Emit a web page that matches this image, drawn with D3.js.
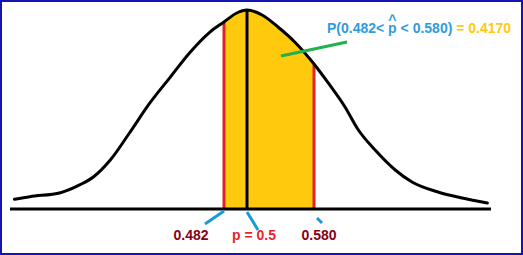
<!DOCTYPE html>
<html>
<head>
<meta charset="utf-8">
<script src="https://cdn.jsdelivr.net/npm/d3@7"></script>
<style>
  body { margin: 0; background: #fff; }
  text { font-family: "Liberation Sans", Arial, sans-serif; font-weight: bold; font-size: 14px; }
</style>
</head>
<body>
<div id="chart"></div>
<script>
// sample proportion values along the bell curve
var curveP = [0.318, 0.330, 0.354, 0.369, 0.380, 0.393, 0.408, 0.424, 0.440, 0.455, 0.471, 0.482, 0.492, 0.500,
              0.518, 0.537, 0.557, 0.580, 0.597, 0.617, 0.633, 0.653, 0.677, 0.697, 0.728, 0.757, 0.787];
// density at those points
var curveD = [0.245, 0.31, 0.41, 0.605, 0.81, 1.23, 1.91, 2.665, 3.315, 3.92, 4.445, 4.70, 4.925, 5.0,
              4.874, 4.573, 4.196, 3.643, 3.166, 2.563, 1.985, 1.482, 0.980, 0.678, 0.427, 0.276, 0.151];

var lowerP = 0.482;
var meanP = 0.5;
var upperP = 0.580;
var tickValues = [0.482, 0.5, 0.580];
var tickLabels = ["0.482", "p = 0.5", "0.580"];
var probText = "P(0.482< ";
var probText2 = "p";
var probText3 = " < 0.580)";
var probValue = " = 0.4170";
var axisEnds = [0.3145, 0.7913];

var width = 523, height = 255;

var svg = d3.select("#chart")
  .append("svg")
    .attr("width", width)
    .attr("height", height);

svg.append("rect")
  .attr("width", width).attr("height", height)
  .attr("fill", "#fff");

// the drawing is not to scale, so the scale bends at the marked values
var x = d3.scaleLinear()
  .domain([lowerP, meanP, upperP])
  .range([224, 247, 314]);

var y = d3.scaleLinear()
  .domain([0, 5])
  .range([209, 10]);

var pts = curveP.map(function(p, i) { return [p, curveD[i]]; });

// shaded region, clipped between the two red lines
svg.append("clipPath").attr("id", "band")
  .append("rect")
    .attr("x", x(lowerP))
    .attr("y", 0)
    .attr("width", x(upperP) - x(lowerP))
    .attr("height", y(0));

var area = d3.area()
  .x(function(d) { return x(d[0]); })
  .y0(y(0))
  .y1(function(d) { return y(d[1]); })
  .curve(d3.curveMonotoneX);

svg.append("path")
  .datum(pts)
  .attr("d", area)
  .attr("fill", "#ffc90e")
  .attr("clip-path", "url(#band)");

var curveAt = function(p) {
  // density on the drawn curve at one of the sampled values
  var i = d3.bisectLeft(curveP, p);
  return curveD[i];
};

// red boundary lines
[lowerP, upperP].forEach(function(p) {
  svg.append("line")
    .attr("x1", x(p)).attr("x2", x(p))
    .attr("y1", y(curveAt(p)) + 1).attr("y2", y(0))
    .attr("stroke", "#e0212b")
    .attr("stroke-width", 3);
});

// mean line
svg.append("line")
  .attr("x1", x(meanP)).attr("x2", x(meanP))
  .attr("y1", y(curveAt(meanP))).attr("y2", y(0))
  .attr("stroke", "#000")
  .attr("stroke-width", 3);

// bell curve
var line = d3.line()
  .x(function(d) { return x(d[0]); })
  .y(function(d) { return y(d[1]); })
  .curve(d3.curveMonotoneX);

svg.append("path")
  .datum(pts)
  .attr("d", line)
  .attr("fill", "none")
  .attr("stroke", "#000")
  .attr("stroke-width", 3)
  .attr("stroke-linecap", "round");

// horizontal axis
svg.append("line")
  .attr("x1", x(axisEnds[0])).attr("x2", x(axisEnds[1]))
  .attr("y1", y(0)).attr("y2", y(0))
  .attr("stroke", "#000")
  .attr("stroke-width", 3);

// leader lines and labels under the axis
var labelStyle = [
  { color: "#880015", dx: -33, lead: [[0, 2], [-19, 15]] },
  { color: "#e3262e", dx: 7, lead: [[0, 3], [11, 21]] },
  { color: "#880015", dx: 5, lead: [[3, 9], [8, 14]] }
];

tickValues.forEach(function(v, i) {
  var s = labelStyle[i];
  svg.append("line")
    .attr("x1", x(v) + s.lead[0][0]).attr("y1", y(0) + s.lead[0][1])
    .attr("x2", x(v) + s.lead[1][0]).attr("y2", y(0) + s.lead[1][1])
    .attr("stroke", "#1b9ad8")
    .attr("stroke-width", 3);
  svg.append("text")
    .attr("x", x(v) + s.dx)
    .attr("y", y(0) + 31)
    .attr("text-anchor", "middle")
    .attr("fill", s.color)
    .text(tickLabels[i]);
});

// green pointer to the shaded area
svg.append("line")
  .attr("x1", 281).attr("y1", 56)
  .attr("x2", 347).attr("y2", 42)
  .attr("stroke", "#22b14c")
  .attr("stroke-width", 3);

// probability statement
var title = svg.append("text")
  .attr("x", 327)
  .attr("y", 33);

title.append("tspan").attr("fill", "#2f9be0").text(probText);
title.append("tspan").attr("fill", "#2f9be0").text(probText2);
title.append("tspan").attr("fill", "#2f9be0").text(probText3);
title.append("tspan").attr("fill", "#ffc90e").text(probValue);

var pIdx = probText.length;
var ext = title.node().getExtentOfChar(pIdx);

// hat over the p
svg.append("text")
  .attr("x", ext.x + ext.width / 2)
  .attr("y", 25)
  .attr("text-anchor", "middle")
  .attr("fill", "#2f9be0")
  .text("^");

// frame
svg.append("rect")
  .attr("x", 1).attr("y", 1)
  .attr("width", width - 2).attr("height", height - 2)
  .attr("fill", "none")
  .attr("stroke", "#1414b4")
  .attr("stroke-width", 2);
</script>
</body>
</html>
